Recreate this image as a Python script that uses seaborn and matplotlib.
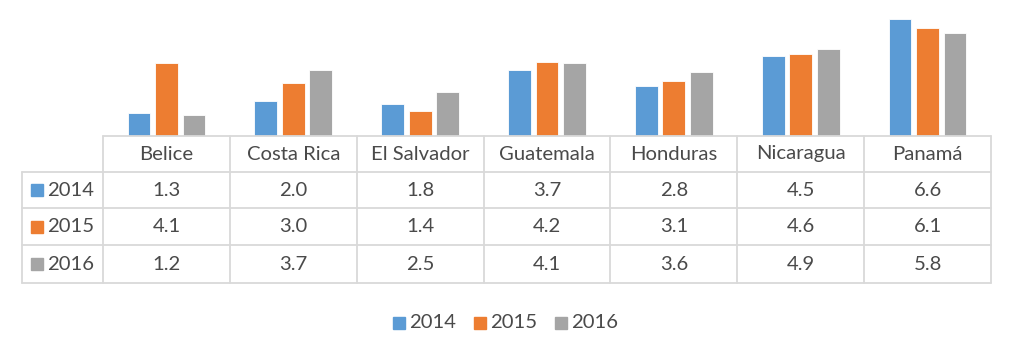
import matplotlib
matplotlib.use("Agg")
import matplotlib.pyplot as plt
import pandas as pd
import seaborn as sns
from matplotlib.patches import Rectangle

countries = ["Belice", "Costa Rica", "El Salvador", "Guatemala", "Honduras", "Nicaragua", "Panamá"]
years = ["2014", "2015", "2016"]
v2014 = [1.3, 2.0, 1.8, 3.7, 2.8, 4.5, 6.6]
v2015 = [4.1, 3.0, 1.4, 4.2, 3.1, 4.6, 6.1]
v2016 = [1.2, 3.7, 2.5, 4.1, 3.6, 4.9, 5.8]
series = [v2014, v2015, v2016]
colors = ["#5B9BD5", "#ED7D31", "#A5A5A5"]

df = pd.DataFrame({
    "country": countries * 3,
    "year": [y for y in years for _ in countries],
    "value": v2014 + v2015 + v2016,
})

sns.set_style("white")
plt.rcParams["font.family"] = ["Lato", "DejaVu Sans"]
W, H = 1015, 354
fig = plt.figure(figsize=(W / 100, H / 100), dpi=100)

# pixel layout
x0, x1 = 103, 991
base = 136
top = 12
ax = fig.add_axes([x0 / W, 1 - base / H, (x1 - x0) / W, (base - top) / H])
sns.barplot(data=df, x="country", y="value", hue="year", palette=colors,
            width=0.65, gap=0.17, ax=ax, legend=False, saturation=1,
            edgecolor="white", linewidth=0.6)
ax.set_xlim(-0.5, len(countries) - 0.5)
ax.set_ylim(0, 6.6 * (base - top) / (base - 19))
ax.axis("off")

# data table drawn on an overlay axes in pixel units
tb = fig.add_axes([0, 0, 1, 1])
tb.set_xlim(0, W)
tb.set_ylim(H, 0)
tb.axis("off")
tb.patch.set_alpha(0)

grid = "#D9D9D9"
lw = 1.3
colw = (x1 - x0) / len(countries)
rows = [136, 172, 208, 245, 283]
xl = 22
fs = 14.6
txt = "#4a4a4a"

# horizontal lines
tb.plot([x0, x1], [rows[0], rows[0]], color=grid, lw=lw)
for r in rows[1:]:
    tb.plot([xl, x1], [r, r], color=grid, lw=lw)
# vertical lines
tb.plot([xl, xl], [rows[1], rows[-1]], color=grid, lw=lw)
for i in range(len(countries) + 1):
    xx = x0 + i * colw
    tb.plot([xx, xx], [rows[0], rows[-1]], color=grid, lw=lw)

for i, c in enumerate(countries):
    cx = x0 + (i + 0.5) * colw
    tb.text(cx, (rows[0] + rows[1]) / 2, c, ha="center", va="center", fontsize=fs, color=txt)
    for j, vals in enumerate(series):
        tb.text(cx, (rows[j + 1] + rows[j + 2]) / 2, f"{vals[i]:.1f}",
                ha="center", va="center", fontsize=fs, color=txt)

for j, y in enumerate(years):
    cy = (rows[j + 1] + rows[j + 2]) / 2
    tb.add_patch(Rectangle((31, cy - 6), 12, 12, color=colors[j]))
    tb.text(47, cy, y, ha="left", va="center", fontsize=fs, color=txt)

# legend at bottom
lx = [393, 474, 555]
ly = 323
for j, y in enumerate(years):
    tb.add_patch(Rectangle((lx[j], ly - 6), 12, 12, color=colors[j]))
    tb.text(lx[j] + 16, ly, y, ha="left", va="center", fontsize=fs, color=txt)

fig.savefig("out.png", dpi=100)
